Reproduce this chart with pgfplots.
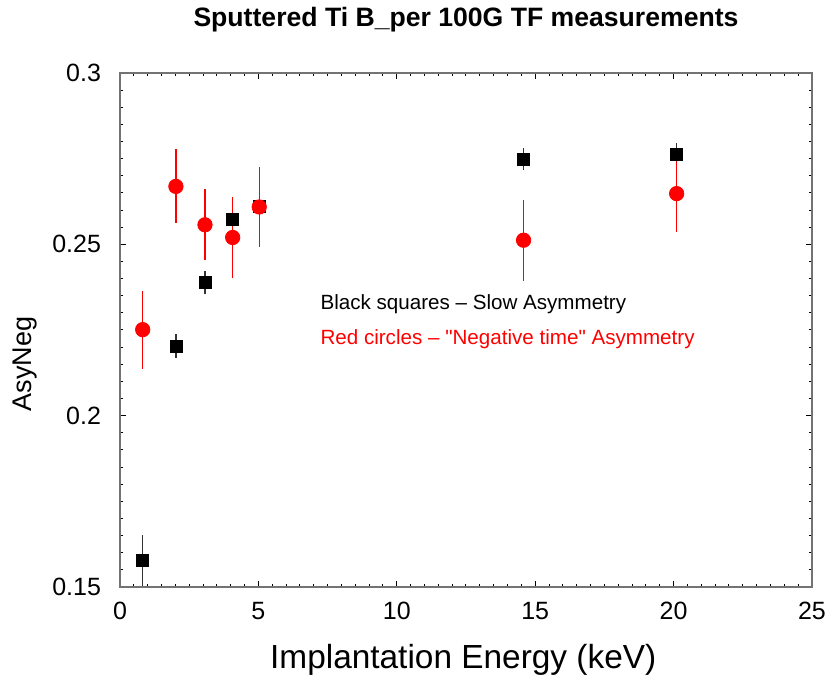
\documentclass[border=0pt]{standalone}
\usepackage{fontspec}
\setmainfont{Liberation Sans}[Ligatures=TeXOff]
\usepackage{pgfplots}
\pgfplotsset{compat=1.18}
\begin{document}
\begin{tikzpicture}
\begin{axis}[
  scale only axis,
  width=346pt, height=257pt,
  xmin=0, xmax=25, ymin=0.15, ymax=0.3,
  xtick={0,5,...,25}, ytick={0.15,0.2,0.25,0.3},
  yticklabels={0.15,0.2,0.25,0.3},
  minor x tick num=9, minor y tick num=9,
  tick pos=both, tick align=inside,
  major tick length=3pt, minor tick length=1.5pt,
  axis line style={gray!90!black, line width=0.8pt},
  every tick/.style={black, line width=0.5pt},
  /pgf/number format/assume math mode=true,
  ticklabel style={font=\fontsize{12.5}{14}\selectfont},
  xticklabel style={yshift=-4pt},
  yticklabel style={xshift=-6pt},
  xlabel={Implantation Energy (keV)},
  ylabel={AsyNeg},
  xlabel style={font=\fontsize{16.7}{18}\selectfont, at={(axis description cs:0.496,-0.142)}, anchor=center},
  ylabel style={font=\fontsize{13.5}{16}\selectfont, at={(axis description cs:-0.137,0.434)}, anchor=center},
  title={\textbf{Sputtered Ti B\_per 100G TF measurements}},
  title style={font=\fontsize{13.3}{15}\selectfont, at={(axis description cs:0.5,1.081)}, anchor=center},
  clip=true,
]
\coordinate (sw) at (rel axis cs:0,0);
\coordinate (ne) at (rel axis cs:1,1);
\addplot[only marks, mark=square*, mark size=3pt, black,
  error bars/.cd, y dir=both, y explicit, error mark=none,
  error bar style={black!80, line width=0.6pt}]
  table[x=x, y=y, y error=e] {
x y e
0.82 0.1577 0.0075
2.02 0.2203 0.0034
3.07 0.2389 0.0034
4.07 0.2572 0.0032
5.03 0.2611 0.0030
14.58 0.2749 0.0032
20.11 0.2762 0.0034
};
\addplot[only marks, mark=*, mark size=3.6pt, red, mark options={fill=red, draw=red},
  error bars/.cd, y dir=both, y explicit, error mark=none,
  error bar style={red, line width=0.6pt}]
  table[x=x, y=y, y error=e] {
x y e
0.82 0.2251 0.0114
2.02 0.2669 0.0108
3.07 0.2557 0.0104
4.07 0.2520 0.0118
5.03 0.2609 0.0118
14.58 0.2512 0.0118
20.11 0.2648 0.0113
};
\node[anchor=west, font=\fontsize{10.3}{12}\selectfont, inner sep=0pt] at (axis cs:7.23,0.2324) {Black squares – Slow Asymmetry};
\node[anchor=west, font=\fontsize{10.3}{12}\selectfont, inner sep=0pt, text=red] at (axis cs:7.23,0.2222) {Red circles – "Negative time" Asymmetry};
\end{axis}
\pgfresetboundingbox
\useasboundingbox ([xshift=-60pt,yshift=-49pt]sw) rectangle ([xshift=9pt,yshift=36.5pt]ne);
\end{tikzpicture}
\end{document}
